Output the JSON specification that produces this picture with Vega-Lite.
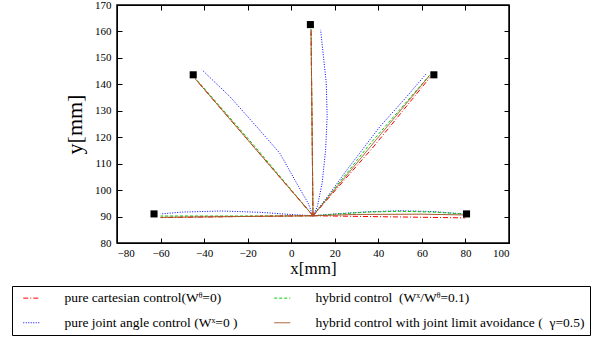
{
  "$schema": "https://vega.github.io/schema/vega-lite/v6.json",
  "width": 392,
  "height": 238,
  "autosize": "none",
  "padding": {"left": 117, "top": 5, "right": 101, "bottom": 99},
  "config": {
    "font": "Liberation Serif",
    "view": {"stroke": null},
    "axis": {"grid": false, "domain": true, "domainColor": "#000", "domainWidth": 1, "ticks": true, "tickColor": "#000", "tickWidth": 1, "labelColor": "#000", "titleColor": "#000", "labelFont": "Liberation Serif", "titleFont": "Liberation Serif", "titleFontWeight": "normal", "labelFontSize": 11}
  },
  "datasets": {
    "traj": [
      {"s": "j", "t": "j-L", "i": 0, "x": 10, "y": 90.3},
      {"s": "j", "t": "j-L", "i": 1, "x": 1, "y": 90.7},
      {"s": "j", "t": "j-L", "i": 2, "x": -14, "y": 91.6},
      {"s": "j", "t": "j-L", "i": 3, "x": -32, "y": 92.1},
      {"s": "j", "t": "j-L", "i": 4, "x": -50, "y": 91.7},
      {"s": "j", "t": "j-L", "i": 5, "x": -60, "y": 91.0},
      {"s": "j", "t": "j-UL", "i": 0, "x": 10, "y": 90.3},
      {"s": "j", "t": "j-UL", "i": 1, "x": 7.8, "y": 95},
      {"s": "j", "t": "j-UL", "i": 2, "x": 2.5, "y": 102.6},
      {"s": "j", "t": "j-UL", "i": 3, "x": -5.2, "y": 113.9},
      {"s": "j", "t": "j-UL", "i": 4, "x": -15.9, "y": 124},
      {"s": "j", "t": "j-UL", "i": 5, "x": -28.1, "y": 135.3},
      {"s": "j", "t": "j-UL", "i": 6, "x": -41, "y": 145.5},
      {"s": "j", "t": "j-V", "i": 0, "x": 10, "y": 90.3},
      {"s": "j", "t": "j-V", "i": 1, "x": 12, "y": 93.8},
      {"s": "j", "t": "j-V", "i": 2, "x": 14.2, "y": 102.7},
      {"s": "j", "t": "j-V", "i": 3, "x": 15.8, "y": 115.2},
      {"s": "j", "t": "j-V", "i": 4, "x": 16.5, "y": 127.8},
      {"s": "j", "t": "j-V", "i": 5, "x": 16.1, "y": 140.4},
      {"s": "j", "t": "j-V", "i": 6, "x": 13.5, "y": 160.6},
      {"s": "j", "t": "j-UR", "i": 0, "x": 10, "y": 90.3},
      {"s": "j", "t": "j-UR", "i": 1, "x": 17.8, "y": 98.8},
      {"s": "j", "t": "j-UR", "i": 2, "x": 25.5, "y": 107.6},
      {"s": "j", "t": "j-UR", "i": 3, "x": 40.7, "y": 124},
      {"s": "j", "t": "j-UR", "i": 4, "x": 53, "y": 135.3},
      {"s": "j", "t": "j-UR", "i": 5, "x": 62.2, "y": 144.2},
      {"s": "j", "t": "j-R", "i": 0, "x": 10, "y": 90.3},
      {"s": "j", "t": "j-R", "i": 1, "x": 20, "y": 91},
      {"s": "j", "t": "j-R", "i": 2, "x": 35, "y": 91.8},
      {"s": "j", "t": "j-R", "i": 3, "x": 50, "y": 92.2},
      {"s": "j", "t": "j-R", "i": 4, "x": 65, "y": 91.9},
      {"s": "j", "t": "j-R", "i": 5, "x": 79, "y": 91},
      {"s": "h", "t": "h-L", "i": 0, "x": 10, "y": 90.3},
      {"s": "h", "t": "h-L", "i": 1, "x": -25, "y": 90.2},
      {"s": "h", "t": "h-L", "i": 2, "x": -60, "y": 90.2},
      {"s": "h", "t": "h-UL", "i": 0, "x": 10, "y": 90.3},
      {"s": "h", "t": "h-UL", "i": 1, "x": -17, "y": 116.8},
      {"s": "h", "t": "h-UL", "i": 2, "x": -44, "y": 142.3},
      {"s": "h", "t": "h-V", "i": 0, "x": 10, "y": 90.3},
      {"s": "h", "t": "h-V", "i": 1, "x": 9.1, "y": 160.8},
      {"s": "h", "t": "h-UR", "i": 0, "x": 10, "y": 90.3},
      {"s": "h", "t": "h-UR", "i": 1, "x": 36, "y": 117.3},
      {"s": "h", "t": "h-UR", "i": 2, "x": 63.5, "y": 143.4},
      {"s": "h", "t": "h-R", "i": 0, "x": 10, "y": 90.3},
      {"s": "h", "t": "h-R", "i": 1, "x": 20, "y": 90.9},
      {"s": "h", "t": "h-R", "i": 2, "x": 35, "y": 91.7},
      {"s": "h", "t": "h-R", "i": 3, "x": 50, "y": 92},
      {"s": "h", "t": "h-R", "i": 4, "x": 65, "y": 91.7},
      {"s": "h", "t": "h-R", "i": 5, "x": 79, "y": 91},
      {"s": "c", "t": "c-L", "i": 0, "x": 10, "y": 90.3},
      {"s": "c", "t": "c-L", "i": 1, "x": -25, "y": 90},
      {"s": "c", "t": "c-L", "i": 2, "x": -60, "y": 89.6},
      {"s": "c", "t": "c-UL", "i": 0, "x": 10, "y": 90.3},
      {"s": "c", "t": "c-UL", "i": 1, "x": -44, "y": 142},
      {"s": "c", "t": "c-V", "i": 0, "x": 10, "y": 90.3},
      {"s": "c", "t": "c-V", "i": 1, "x": 9.1, "y": 160.8},
      {"s": "c", "t": "c-UR", "i": 0, "x": 10, "y": 90.3},
      {"s": "c", "t": "c-UR", "i": 1, "x": 37.7, "y": 116.3},
      {"s": "c", "t": "c-UR", "i": 2, "x": 63.7, "y": 142.6},
      {"s": "c", "t": "c-R", "i": 0, "x": 10, "y": 90.3},
      {"s": "c", "t": "c-R", "i": 1, "x": 45, "y": 89.9},
      {"s": "c", "t": "c-R", "i": 2, "x": 80, "y": 89.5},
      {"s": "a", "t": "a-L", "i": 0, "x": 10, "y": 90.3},
      {"s": "a", "t": "a-L", "i": 1, "x": -25, "y": 90},
      {"s": "a", "t": "a-L", "i": 2, "x": -60, "y": 89.7},
      {"s": "a", "t": "a-UL", "i": 0, "x": 10, "y": 90.3},
      {"s": "a", "t": "a-UL", "i": 1, "x": -44, "y": 142},
      {"s": "a", "t": "a-V", "i": 0, "x": 10, "y": 90.3},
      {"s": "a", "t": "a-V", "i": 1, "x": 9.1, "y": 160.8},
      {"s": "a", "t": "a-UR", "i": 0, "x": 10, "y": 90.3},
      {"s": "a", "t": "a-UR", "i": 1, "x": 63.4, "y": 143.2},
      {"s": "a", "t": "a-R", "i": 0, "x": 10, "y": 90.3},
      {"s": "a", "t": "a-R", "i": 1, "x": 30, "y": 90.8},
      {"s": "a", "t": "a-R", "i": 2, "x": 60, "y": 90.9},
      {"s": "a", "t": "a-R", "i": 3, "x": 80, "y": 90.6}
    ],
    "targets": [
      {"x": -63, "y": 91},
      {"x": -45, "y": 143.6},
      {"x": 8.8, "y": 162.6},
      {"x": 65.5, "y": 143.6},
      {"x": 80.5, "y": 91}
    ],
    "frame": [
      {"x": -80, "x2": 100, "y": 80, "y2": 170}
    ]
  },
  "layer": [
    {
      "data": {"name": "frame"},
      "mark": {"type": "rect", "fill": "#ffffff", "fillOpacity": 0, "stroke": "#000000", "strokeWidth": 1.5, "strokeOpacity": 1},
      "encoding": {
        "x": {"field": "x", "type": "quantitative", "scale": {"domain": [-80, 100], "nice": false, "zero": false},
          "axis": {"orient": "top", "values": [-80, -60, -40, -20, 0, 20, 40, 60, 80, 100], "tickSize": -5, "labels": false, "title": null}},
        "x2": {"field": "x2"},
        "y": {"field": "y", "type": "quantitative", "scale": {"domain": [80, 170], "nice": false, "zero": false},
          "axis": {"orient": "right", "values": [80, 90, 100, 110, 120, 130, 140, 150, 160, 170], "tickSize": -5, "labels": false, "title": null}},
        "y2": {"field": "y2"}
      }
    },
    {
      "data": {"name": "traj"},
      "mark": {"type": "line", "clip": true},
      "encoding": {
        "x": {"field": "x", "type": "quantitative", "scale": {"domain": [-80, 100], "nice": false, "zero": false},
          "axis": {"orient": "bottom", "values": [-80, -60, -40, -20, 0, 20, 40, 60, 80, 100], "tickSize": -5, "labelPadding": 9, "labelFont": "Liberation Serif", "labelFontSize": 11, "title": "x[mm]", "titleFont": "Liberation Serif", "titleFontSize": 17, "titlePadding": 2}},
        "y": {"field": "y", "type": "quantitative", "scale": {"domain": [80, 170], "nice": false, "zero": false},
          "axis": {"orient": "left", "values": [80, 90, 100, 110, 120, 130, 140, 150, 160, 170], "tickSize": -5, "labelPadding": 11, "labelFont": "Liberation Serif", "labelFontSize": 11, "title": "y[mm]", "titleFont": "Liberation Serif", "titleFontSize": 22, "titlePadding": 8}},
        "color": {"field": "s", "type": "nominal", "scale": {"domain": ["c", "j", "h", "a"], "range": ["#ff0000", "#0000ff", "#00cc00", "#a65628"]},
          "legend": {"orient": "none", "legendX": -105, "legendY": 281, "columns": 2, "gridAlign": "each", "title": null, "strokeColor": "#000", "padding": 5, "fillColor": "#fff", "symbolType": "M-0.1,0H3.1", "symbolSize": 100, "labelFontSize": 13.5, "labelFont": "Liberation Serif", "labelColor": "#000", "labelOffset": 34, "labelLimit": 400, "columnPadding": 30, "rowPadding": 10,
            "encode": {"symbols": {"update": {"stroke": {"scale": "color", "field": "value"}, "fill": {"value": "transparent"}}}},
            "labelExpr": "datum.value == 'c' ? 'pure cartesian control(Wᶿ=0)' : datum.value == 'h' ? 'hybrid control\u00a0 (Wˣ/Wᶿ=0.1)' : datum.value == 'j' ? 'pure joint angle control (Wˣ=0 )' : 'hybrid control with joint limit avoidance (\u00a0\u00a0γ=0.5)'"}},
        "strokeDash": {"field": "s", "type": "nominal", "scale": {"domain": ["c", "j", "h", "a"], "range": [[5, 2, 1, 2], [1, 1.5], [3, 2], [1, 0]]}},
        "strokeWidth": {"field": "s", "type": "nominal", "scale": {"domain": ["c", "j", "h", "a"], "range": [1, 1, 1, 1.6]}},
        "detail": {"field": "t"},
        "order": {"field": "i", "type": "quantitative"}
      }
    },
    {
      "data": {"name": "targets"},
      "mark": {"type": "point", "shape": "square", "filled": true, "color": "#000", "size": 50, "opacity": 1},
      "encoding": {
        "x": {"field": "x", "type": "quantitative", "scale": {"domain": [-80, 100], "nice": false, "zero": false}, "axis": null},
        "y": {"field": "y", "type": "quantitative", "scale": {"domain": [80, 170], "nice": false, "zero": false}, "axis": null}
      }
    }
  ],
  "resolve": {"axis": {"x": "independent", "y": "independent"}}
}
